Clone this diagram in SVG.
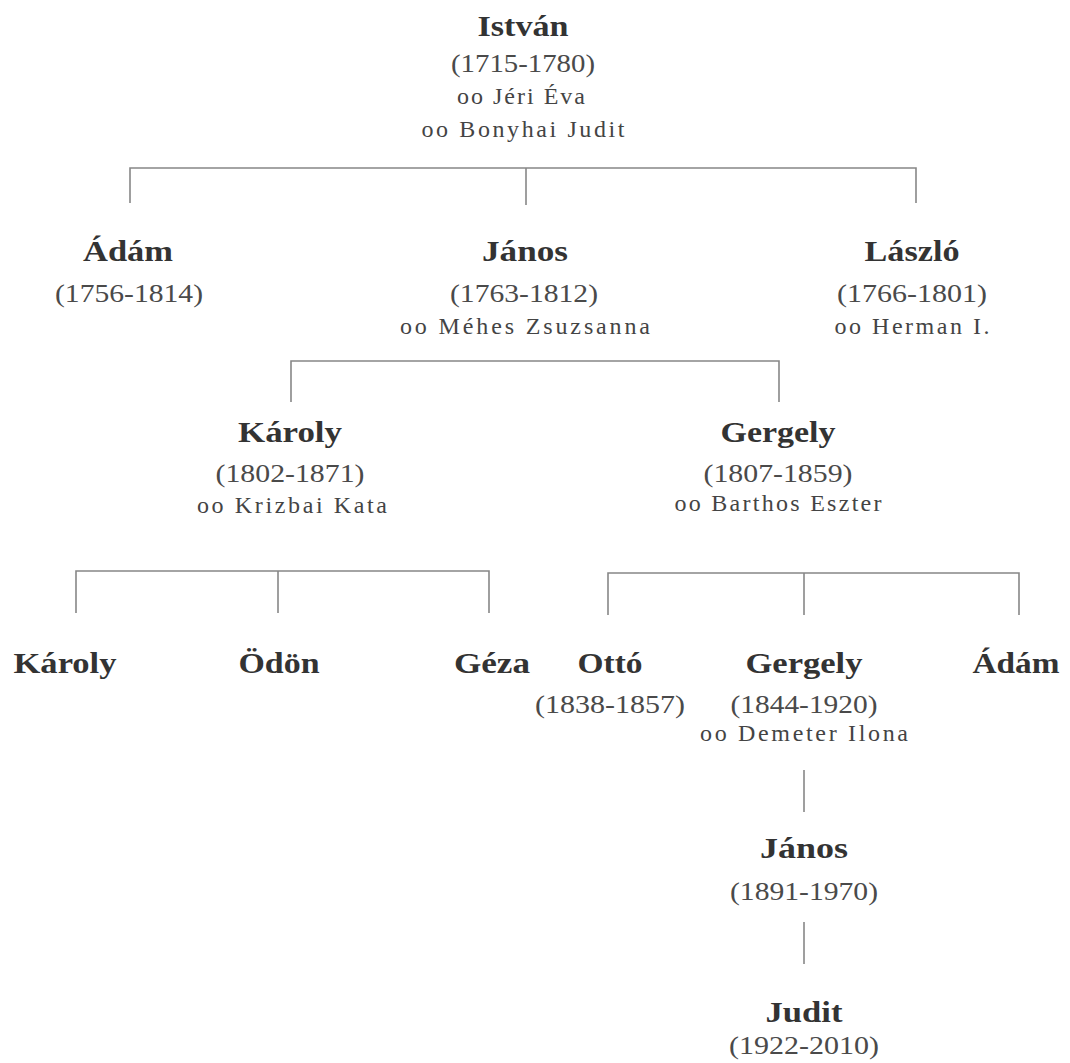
<svg xmlns="http://www.w3.org/2000/svg" width="1070" height="1063" viewBox="0 0 1070 1063">
<style>
text{font-family:"Liberation Serif","Times New Roman",serif;text-anchor:middle}
.n{font-size:30px;font-weight:bold;fill:#333}
.d{font-size:26px;fill:#4a4a4a}
.s{font-size:24px;fill:#444}
.c line,.c polyline{stroke:#878787;stroke-width:1.6;fill:none}
</style>
<rect width="1070" height="1063" fill="#fff"/>
<g class="c" id="connectors">
<polyline points="130,203 130,168 916,168 916,203"/>
<line x1="526" y1="168" x2="526" y2="205"/>
<polyline points="291,402 291,361 779,361 779,402"/>
<polyline points="76,613 76,571 489,571 489,613"/>
<line x1="278" y1="571" x2="278" y2="613"/>
<polyline points="608,615 608,573 1019,573 1019,615"/>
<line x1="804" y1="573" x2="804" y2="615"/>
<line x1="804" y1="770" x2="804" y2="812"/>
<line x1="804" y1="922" x2="804" y2="964"/>
</g>
<g id="istvan">
<text class="n" x="523" y="36" textLength="91" lengthAdjust="spacingAndGlyphs">István</text>
<text class="d" x="523" y="72" textLength="144" lengthAdjust="spacingAndGlyphs">(1715-1780)</text>
<text class="s" x="521" y="104" textLength="128">oo Jéri Éva</text>
<text class="s" x="523" y="137" textLength="203">oo Bonyhai Judit</text>
</g>
<g id="adam1">
<text class="n" x="128" y="261" textLength="90" lengthAdjust="spacingAndGlyphs">Ádám</text>
<text class="d" x="129" y="302" textLength="148" lengthAdjust="spacingAndGlyphs">(1756-1814)</text>
</g>
<g id="janos1">
<text class="n" x="525" y="261" textLength="86" lengthAdjust="spacingAndGlyphs">János</text>
<text class="d" x="524" y="302" textLength="148" lengthAdjust="spacingAndGlyphs">(1763-1812)</text>
<text class="s" x="525" y="334" textLength="250">oo Méhes Zsuzsanna</text>
</g>
<g id="laszlo">
<text class="n" x="912" y="261" textLength="95" lengthAdjust="spacingAndGlyphs">László</text>
<text class="d" x="912" y="302" textLength="150" lengthAdjust="spacingAndGlyphs">(1766-1801)</text>
<text class="s" x="912" y="334" textLength="155">oo Herman I.</text>
</g>
<g id="karoly1">
<text class="n" x="290" y="442" textLength="104" lengthAdjust="spacingAndGlyphs">Károly</text>
<text class="d" x="290" y="482" textLength="149" lengthAdjust="spacingAndGlyphs">(1802-1871)</text>
<text class="s" x="292" y="513" textLength="190">oo Krizbai Kata</text>
</g>
<g id="gergely1">
<text class="n" x="778" y="442" textLength="115" lengthAdjust="spacingAndGlyphs">Gergely</text>
<text class="d" x="778" y="482" textLength="149" lengthAdjust="spacingAndGlyphs">(1807-1859)</text>
<text class="s" x="778" y="511" textLength="207">oo Barthos Eszter</text>
</g>
<g id="karoly2">
<text class="n" x="65" y="673" textLength="103" lengthAdjust="spacingAndGlyphs">Károly</text>
</g>
<g id="odon">
<text class="n" x="279" y="673" textLength="81" lengthAdjust="spacingAndGlyphs">Ödön</text>
</g>
<g id="geza">
<text class="n" x="492" y="673" textLength="76" lengthAdjust="spacingAndGlyphs">Géza</text>
</g>
<g id="otto">
<text class="n" x="610" y="673" textLength="65" lengthAdjust="spacingAndGlyphs">Ottó</text>
<text class="d" x="610" y="713" textLength="150" lengthAdjust="spacingAndGlyphs">(1838-1857)</text>
</g>
<g id="gergely2">
<text class="n" x="804" y="673" textLength="117" lengthAdjust="spacingAndGlyphs">Gergely</text>
<text class="d" x="804" y="713" textLength="147" lengthAdjust="spacingAndGlyphs">(1844-1920)</text>
<text class="s" x="804" y="741" textLength="208">oo Demeter Ilona</text>
</g>
<g id="adam2">
<text class="n" x="1016" y="673" textLength="87" lengthAdjust="spacingAndGlyphs">Ádám</text>
</g>
<g id="janos2">
<text class="n" x="804" y="858" textLength="88" lengthAdjust="spacingAndGlyphs">János</text>
<text class="d" x="804" y="900" textLength="148" lengthAdjust="spacingAndGlyphs">(1891-1970)</text>
</g>
<g id="judit">
<text class="n" x="804" y="1022" textLength="77" lengthAdjust="spacingAndGlyphs">Judit</text>
<text class="d" x="804" y="1054" textLength="150" lengthAdjust="spacingAndGlyphs">(1922-2010)</text>
</g>
</svg>
